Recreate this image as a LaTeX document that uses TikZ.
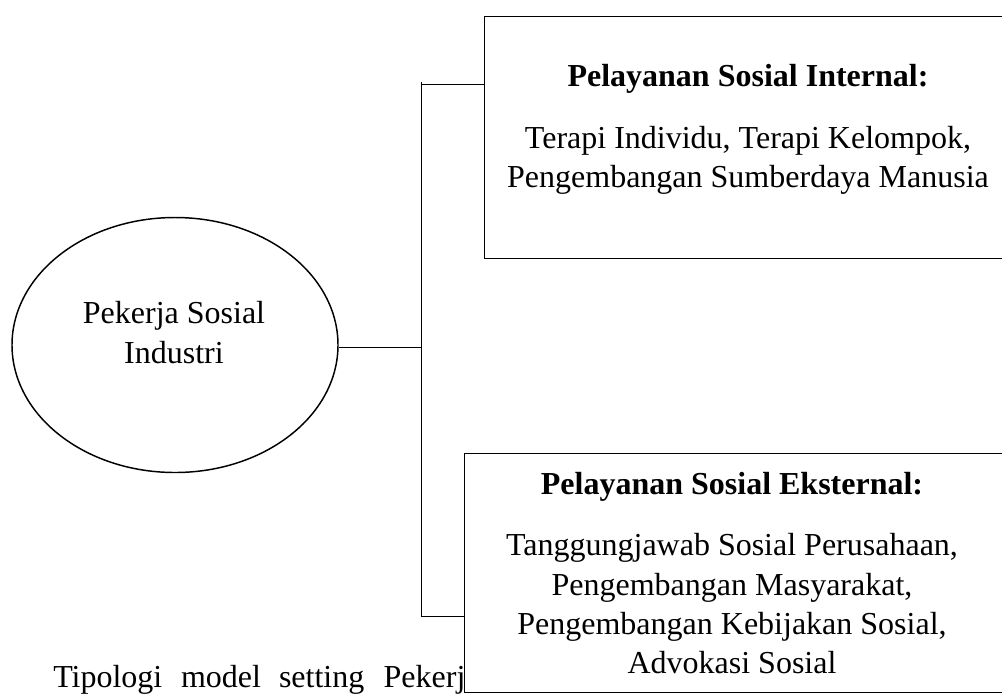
\documentclass[tikz,border=0pt]{standalone}
\usepackage{fontspec}
\setmainfont{Liberation Serif}
\usetikzlibrary{shapes.geometric}
\begin{document}
\begin{tikzpicture}[x=0.75pt,y=-0.75pt,
  txt/.style={inner sep=0pt,anchor=base,font=\fontsize{24}{29.25}\selectfont},
  boxstyle/.style={draw,line width=1.1pt,fill=white,inner sep=0pt,anchor=north west},
  conn/.style={line width=0.75pt}]
\path[use as bounding box,clip] (0,0) rectangle (1002,694);
\fill[white] (0,0) rectangle (1002,694);
% caption text behind the lower box
\node[txt,anchor=base west] (cap) at (53,687) {Tipologi\hspace{14pt}model\hspace{13.5pt}setting\hspace{14.5pt}Pekerj};
% ellipse
\node[draw,ellipse,line width=1.1pt,minimum width=244.5pt,minimum height=191.25pt,inner sep=0pt] (ell) at (175,345) {};
\node[txt] (ellA) at (174,323) {Pekerja Sosial};
\node[txt] (ellB) at (174,363) {Industri};
% boxes
\node[boxstyle,minimum width=397.5pt,minimum height=181.5pt] (top) at (484,16) {};
\node[txt] (topT) at (748,86) {\bfseries Pelayanan Sosial Internal:};
\node[txt] (topA) at (748,148) {Terapi Individu, Terapi Kelompok,};
\node[txt] (topB) at (748,187) {Pengembangan Sumberdaya Manusia};
\node[boxstyle,minimum width=412.5pt,minimum height=179.25pt] (bot) at (464,453) {};
\node[txt] (botT) at (732,494) {\bfseries Pelayanan Sosial Eksternal:};
\node[txt] (botA) at (732,555) {Tanggungjawab Sosial Perusahaan,};
\node[txt] (botB) at (732,595) {Pengembangan Masyarakat,};
\node[txt] (botC) at (732,634) {Pengembangan Kebijakan Sosial,};
\node[txt] (botD) at (732,673) {Advokasi Sosial};
% connectors
\coordinate (jt) at (421,82);
\coordinate (jtop) at (421,84);
\coordinate (jm) at (421,347);
\coordinate (jb) at (421,616);
\draw[conn] (jt) -- (jb);
\draw[conn] (ell.east |- jm) -- (jm);
\draw[conn] (jtop) -- (jtop -| top.west);
\draw[conn] (jb) -- (jb -| bot.west);
\end{tikzpicture}
\end{document}
